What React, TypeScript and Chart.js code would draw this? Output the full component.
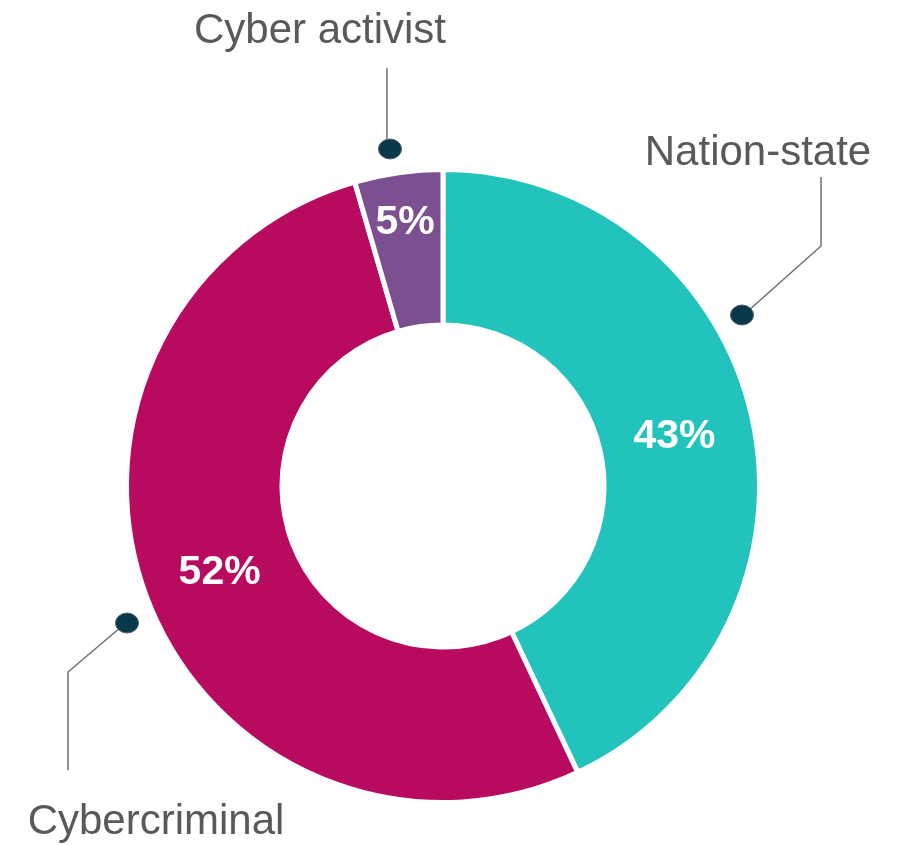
import React, { useEffect, useRef } from "react";
import { Chart, registerables } from "chart.js";

Chart.register(...registerables);

const categories = ["Nation-state", "Cybercriminal", "Cyber activist"];
const shares = [43, 52.5, 4.5];
const shareLabels = ["43%", "52%", "5%"];
const colors = ["#22C3BC", "#B80A5F", "#7C5090"];

// callout geometry relative to chart centre (px)
const callouts = [
  { dot: [299, -171], path: [[305, -175], [378, -240], [378, -309]], text: [315, -321] },
  { dot: [-316, 137], path: [[-322, 141], [-375, 186], [-375, 284]], text: [-287, 348] },
  { dot: [-53, -337], path: [[-56, -346], [-56, -418]], text: [-123, -443] },
];
const labelRing = [0.49, 0.5, 0.69];

const overlayPlugin = {
  id: "overlay",
  afterDatasetsDraw(chart: any) {
    const ctx = chart.ctx;
    const meta = chart.getDatasetMeta(0);
    ctx.save();
    meta.data.forEach((arc: any, i: number) => {
      const p = arc.getProps(["x", "y", "startAngle", "endAngle", "innerRadius", "outerRadius"], true);
      const mid = (p.startAngle + p.endAngle) / 2;
      const r = p.innerRadius + labelRing[i] * (p.outerRadius - p.innerRadius);
      ctx.fillStyle = "#ffffff";
      ctx.font = "bold 41px 'Liberation Sans', Arial, sans-serif";
      ctx.textAlign = "center";
      ctx.textBaseline = "middle";
      ctx.fillText(shareLabels[i], p.x + r * Math.cos(mid), p.y + r * Math.sin(mid) + 2);

      const c = callouts[i];
      ctx.strokeStyle = "#6f6f6f";
      ctx.lineWidth = 1.5;
      ctx.beginPath();
      c.path.forEach((pt, j) => {
        if (j === 0) ctx.moveTo(p.x + pt[0], p.y + pt[1]);
        else ctx.lineTo(p.x + pt[0], p.y + pt[1]);
      });
      ctx.stroke();
      ctx.beginPath();
      ctx.ellipse(p.x + c.dot[0], p.y + c.dot[1], 11.5, 10, 0, 0, Math.PI * 2);
      ctx.fillStyle = "#07394A";
      ctx.fill();
      ctx.strokeStyle = "#555f63";
      ctx.lineWidth = 1;
      ctx.stroke();

      ctx.fillStyle = "#595959";
      ctx.font = "42px 'Liberation Sans', Arial, sans-serif";
      ctx.textBaseline = "alphabetic";
      ctx.textAlign = "center";
      ctx.fillText(categories[i], p.x + c.text[0], p.y + c.text[1]);
    });
    ctx.restore();
  },
};

export default function App() {
  const ref = useRef<HTMLCanvasElement>(null);
  useEffect(() => {
    if (!ref.current) return;
    const chart = new Chart(ref.current, {
      type: "doughnut",
      data: {
        labels: categories,
        datasets: [
          {
            data: shares,
            backgroundColor: colors,
            borderColor: "#ffffff",
            borderWidth: 5,
            hoverOffset: 0,
          },
        ],
      },
      options: {
        responsive: false,
        animation: false,
        radius: 316.5,
        cutout: 158.5,
        layout: { padding: { left: 129, right: 145, top: 172, bottom: 45 } },
        plugins: { legend: { display: false }, tooltip: { enabled: false } },
      } as any,
      plugins: [overlayPlugin],
    });
    return () => chart.destroy();
  }, []);
  return (
    <div style={{ position: "fixed", left: 0, top: 0, width: 902, height: 845, background: "#fff" }}>
      <canvas ref={ref} width={902} height={845} />
    </div>
  );
}
